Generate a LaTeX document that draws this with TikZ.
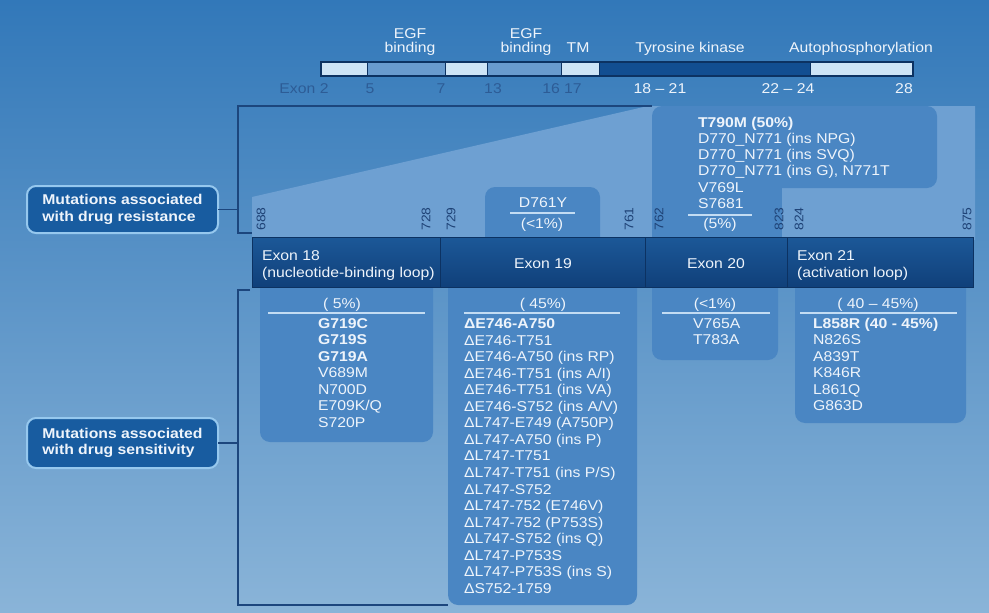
\documentclass[tikz,border=0pt]{standalone}
\usepackage{fontspec}
\setmainfont{Liberation Sans}[FakeStretch=1.11]
\definecolor{bgtop}{RGB}{50,120,185}
\definecolor{bgmid}{RGB}{92,148,200}
\definecolor{bgbot}{RGB}{138,180,216}
\definecolor{trap}{RGB}{110,160,210}
\definecolor{boxblue}{RGB}{74,134,195}
\definecolor{exontop}{RGB}{28,88,152}
\definecolor{exonbot}{RGB}{16,64,122}
\definecolor{navydark}{RGB}{12,50,98}
\definecolor{lightseg}{RGB}{205,228,246}
\definecolor{midseg}{RGB}{105,155,206}
\definecolor{darkseg}{RGB}{18,78,145}
\definecolor{txt}{RGB}{238,244,251}
\definecolor{darklab}{RGB}{45,92,150}
\definecolor{numdark}{RGB}{30,66,118}
\definecolor{lbborder}{RGB}{150,200,238}
\definecolor{lbfill}{RGB}{24,92,160}
\definecolor{bracket}{RGB}{28,70,125}
\definecolor{sepcol}{RGB}{195,220,243}
\tikzset{
  every node/.style={inner sep=0pt, outer sep=0pt},
  tx/.style={text=txt, font=\fontsize{14.2}{16.4}\selectfont},
  itm/.style={tx, anchor=base west},
  ctr/.style={tx, anchor=base},
  dlab/.style={text=darklab, font=\fontsize{14.2}{16.4}\selectfont, anchor=base},
  resnum/.style={rotate=90, text=numdark, font=\fontsize{12.5}{13}\selectfont},
  labelbox/.style={draw=lbborder, line width=2pt, fill=lbfill, rounded corners=9pt,
    minimum width=191pt, align=left, text=txt, font=\bfseries\fontsize{14.2}{16.5}\selectfont},
  exonseg/.style={top color=exontop, bottom color=exonbot, draw=navydark, line width=0.8pt,
    minimum height=50pt, anchor=north west},
  brk/.style={draw=bracket, line width=1.4pt},
  sep/.style={draw=sepcol, line width=1.3pt},
  mbox/.style={fill=boxblue},
}
\begin{document}
\begin{tikzpicture}[x=1pt,y=-1pt]
\useasboundingbox (0,0) rectangle (989,613);
% background
\shade[top color=bgtop, middle color=bgmid, bottom color=bgbot] (0,0) rectangle (989,613);
% zoom trapezoid
\fill[trap] (252,240) -- (252,197) -- (648,106) -- (975,106) -- (975,240) -- cycle;

% top exon bar
\fill[lightseg] (321,62) rectangle (367,76);
\fill[midseg]   (367,62) rectangle (445,76);
\fill[lightseg] (445,62) rectangle (487,76);
\fill[midseg]   (487,62) rectangle (561,76);
\fill[lightseg] (561,62) rectangle (599,76);
\fill[darkseg]  (599,62) rectangle (810,76);
\fill[lightseg] (810,62) rectangle (913,76);
\foreach \xx in {367,445,487,561,599,810} \draw[navydark, line width=0.7pt] (\xx,62) -- (\xx,76);
\draw[navydark, line width=1.6pt] (321,62) rectangle (913,76);

% labels above top bar
\node[ctr] (egf1a) at (410,38) {EGF};
\node[ctr] (egf1b) at (410,52) {binding};
\node[ctr] (egf2a) at (526,38) {EGF};
\node[ctr] (egf2b) at (526,52) {binding};
\node[ctr] (tm) at (578,52) {TM};
\node[ctr] (tk) at (690,52) {Tyrosine kinase};
\node[ctr] (ap) at (861,52) {Autophosphorylation};
% labels below top bar
\node[dlab] (b2) at (304,93) {Exon 2};
\node[dlab] (b5) at (370,93) {5};
\node[dlab] (b7) at (441,93) {7};
\node[dlab] (b13) at (493,93) {13};
\node[dlab] (b16) at (562,93) {16 17};
\node[ctr] (b18) at (660,93) {18 – 21};
\node[ctr] (b22) at (788,93) {22 – 24};
\node[ctr] (b28) at (904,93) {28};

% resistance boxes above exon bar
\fill[mbox, rounded corners=10pt] (485,187) rectangle (600,250);
\fill[mbox, rounded corners=10pt] (652,106) rectangle (937,188);
\fill[mbox] (652,150) rectangle (782,250);

% sensitivity boxes below exon bar
\fill[mbox, rounded corners=10pt] (260,270) rectangle (433,442);
\fill[mbox, rounded corners=10pt] (448,270) rectangle (637,605);
\fill[mbox, rounded corners=10pt] (652,270) rectangle (778,360);
\fill[mbox, rounded corners=10pt] (795,270) rectangle (966,423);

% exon bar
\node[exonseg, minimum width=188pt] (ex18) at (252,237) {};
\node[exonseg, minimum width=205pt] (ex19) at (440,237) {};
\node[exonseg, minimum width=142pt] (ex20) at (645,237) {};
\node[exonseg, minimum width=186pt] (ex21) at (787,237) {};
\node[itm] (ex18a) at (262,260) {Exon 18};
\node[itm] (ex18b) at (262,277) {(nucleotide-binding loop)};
\node[ctr] (ex19a) at (543,268) {Exon 19};
\node[ctr] (ex20a) at (716,268) {Exon 20};
\node[itm] (ex21a) at (797,260) {Exon 21};
\node[itm] (ex21b) at (797,277) {(activation loop)};

% residue numbers
\node[resnum] (n688) at (261,219) {688};
\node[resnum] (n728) at (426,219) {728};
\node[resnum] (n729) at (451,219) {729};
\node[resnum] (n761) at (629,219) {761};
\node[resnum] (n762) at (659,219) {762};
\node[resnum] (n823) at (779,219) {823};
\node[resnum] (n824) at (799,219) {824};
\node[resnum] (n875) at (967,219) {875};

% D761Y
\node[ctr] (d761) at (543,207) {D761Y};
\draw[sep] (510,213) -- (575,213);
\node[ctr] (d761p) at (542,228) {(<1\%)};

% T790M list
\foreach \t [count=\i from 0] in {{\bfseries T790M (50\%)},{D770\_N771 (ins NPG)},{D770\_N771 (ins SVQ)},{D770\_N771 (ins G), N771T},V769L,S7681}
  \node[itm] (r20-\i) at (698,127+16.3*\i) {\t};
\draw[sep] (688,215) -- (752,215);
\node[ctr] (r20p) at (720,228) {(5\%)};

% Exon 18 sensitivity
\node[ctr] (p18) at (342,308) {( 5\%)};
\draw[sep] (268,313) -- (425,313);
\foreach \t [count=\i from 0] in {{\bfseries G719C},{\bfseries G719S},{\bfseries G719A},V689M,N700D,{E709K/Q},S720P}
  \node[itm] (s18-\i) at (318,328.5+16.45*\i) {\t};

% Exon 19 sensitivity
\node[ctr] (p19) at (543,308) {( 45\%)};
\draw[sep] (464,313) -- (620,313);
\foreach \t [count=\i from 0] in {{\bfseries ΔE746-A750},ΔE746-T751,{ΔE746-A750 (ins RP)},{ΔE746-T751 (ins A/I)},{ΔE746-T751 (ins VA)},{ΔE746-S752 (ins A/V)},{ΔL747-E749 (A750P)},{ΔL747-A750 (ins P)},ΔL747-T751,{ΔL747-T751 (ins P/S)},ΔL747-S752,{ΔL747-752 (E746V)},{ΔL747-752 (P753S)},{ΔL747-S752 (ins Q)},ΔL747-P753S,{ΔL747-P753S (ins S)},ΔS752-1759}
  \node[itm] (s19-\i) at (464,328.5+16.55*\i) {\t};

% Exon 20 sensitivity
\node[ctr] (p20) at (715,308) {(<1\%)};
\draw[sep] (662,313) -- (770,313);
\foreach \t [count=\i from 0] in {V765A,T783A}
  \node[itm] (s20-\i) at (693,328.5+16.45*\i) {\t};

% Exon 21 sensitivity
\node[ctr] (p21) at (878,308) {( 40 – 45\%)};
\draw[sep] (800,313) -- (957,313);
\foreach \t [count=\i from 0] in {{\bfseries L858R (40 - 45\%)},N826S,A839T,K846R,L861Q,G863D}
  \node[itm] (s21-\i) at (813,328.5+16.45*\i) {\t};

% category labels and brackets
\node[labelbox, minimum height=47pt] (res) at (122.5,209.5) {Mutations associated\\with drug resistance};
\node[labelbox, minimum height=50pt] (sens) at (122.5,443) {Mutations associated\\with drug sensitivity};

\coordinate (rT) at (238,106);
\coordinate (rTR) at (652,106);
\coordinate (rB) at (238,233);
\coordinate (rBR) at (252,233);
\coordinate (sT) at (238,290);
\coordinate (sTR) at (250,290);
\coordinate (sB) at (238,605);
\coordinate (sBR) at (448,605);
\draw[brk] (rTR) -- (rT) -- (rB) -- (rBR);
\draw[brk] (res.east) -- (res.east -| rT);
\draw[brk] (sTR) -- (sT) -- (sB) -- (sBR);
\draw[brk] (sens.east) -- (sens.east -| sT);
\end{tikzpicture}
\end{document}
